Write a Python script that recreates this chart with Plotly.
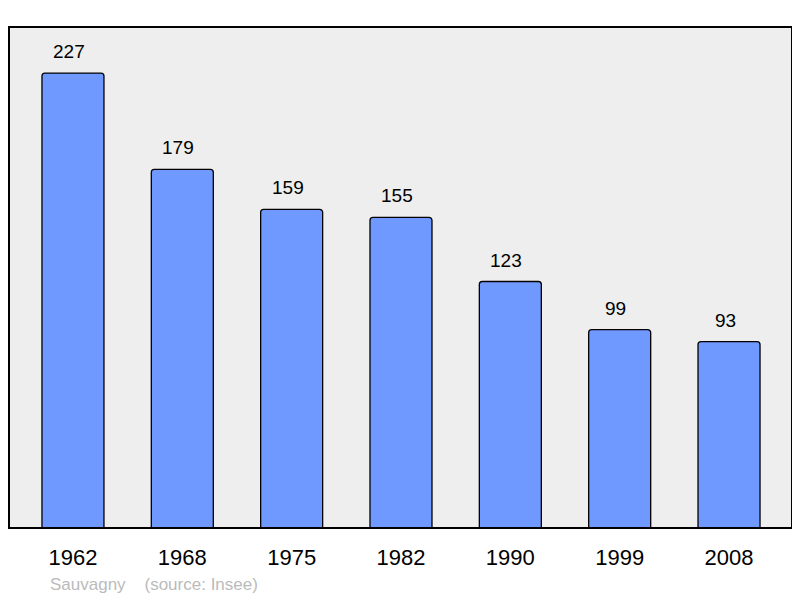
import plotly.graph_objects as go

# population per census year
years = ["1962", "1968", "1975", "1982", "1990", "1999", "2008"]
population = [227, 179, 159, 155, 123, 99, 93]

commune = "Sauvagny"
source = "(source: Insee)"

FONT = "Liberation Sans, Arial, sans-serif"

fig = go.Figure()
fig.add_trace(go.Bar(
    x=years,
    y=population,
    width=0.567,
    marker=dict(color="#7099ff", line=dict(color="#000000", width=1.3), cornerradius=3),
    hoverinfo="skip",
))

# value labels above bars (category index positions), nudged a bit left like the original
for i, val in enumerate(population):
    fig.add_annotation(
        x=i, y=val, text=str(val), showarrow=False,
        yanchor="bottom", yshift=9, xshift=-4,
        font=dict(family=FONT, size=19, color="#000000"),
    )

fig.add_annotation(
    xref="paper", yref="paper", x=0.05, y=-0.112, xanchor="left", yanchor="middle",
    text=commune + "&nbsp;&nbsp;&nbsp;&nbsp;" + source, showarrow=False,
    font=dict(family=FONT, size=17, color="#bbbbbb"),
)

# frame around plot area
fig.add_shape(type="rect", xref="paper", yref="paper", x0=0, y0=0, x1=1, y1=1,
              line=dict(color="#000000", width=2), layer="above")

# page body has an 8px margin, so size/margins are reduced to compensate
fig.update_layout(
    width=792, height=590,
    margin=dict(l=1, r=8, t=19, b=70),
    paper_bgcolor="#ffffff",
    plot_bgcolor="#eeeeee",
    showlegend=False,
    xaxis=dict(type="category", range=[-0.585, 6.576], showgrid=False, zeroline=False, ticks="",
               tickfont=dict(family=FONT, size=22, color="#000000"),
               ticklabelstandoff=14),
    yaxis=dict(range=[0, 250], showgrid=False, zeroline=False, showticklabels=False),
)

fig.write_html("out.html")
